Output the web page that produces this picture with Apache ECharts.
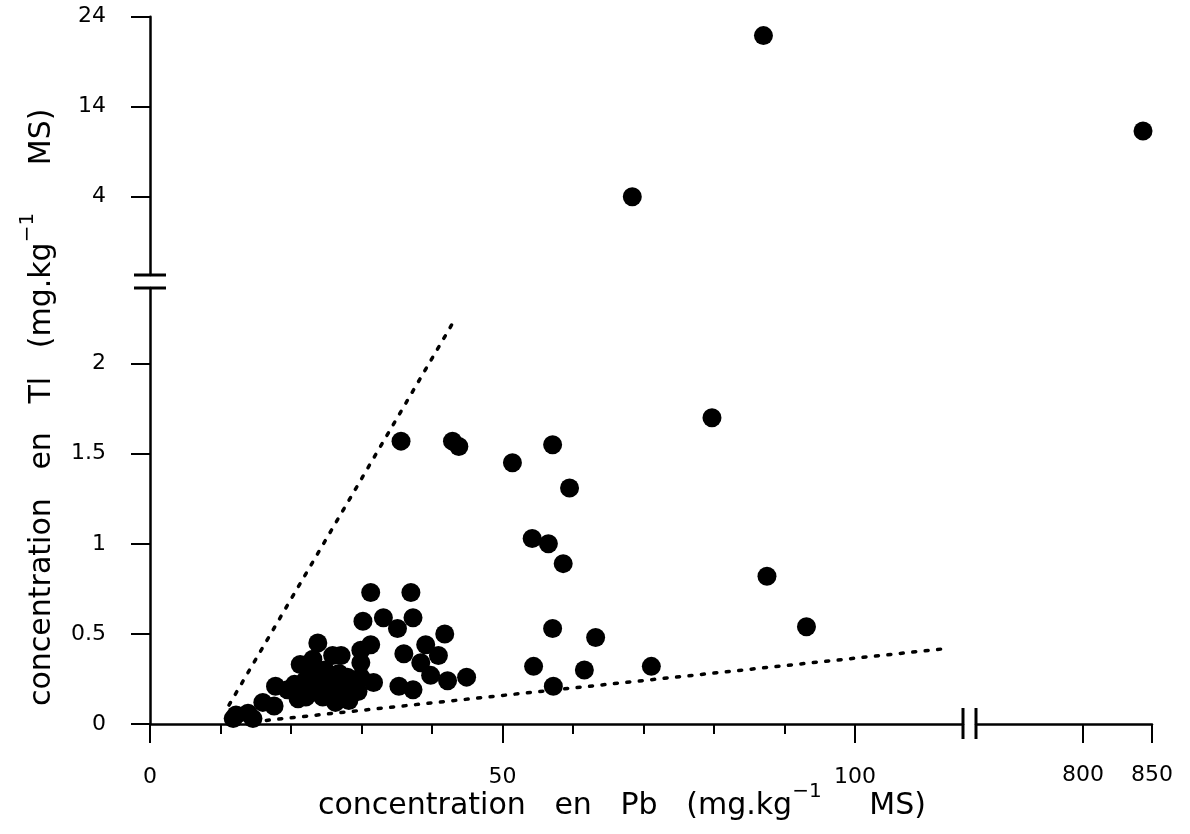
<!DOCTYPE html>
<html>
<head>
<meta charset="utf-8">
<script src="https://cdn.jsdelivr.net/npm/echarts@6/dist/echarts.min.js"></script>
<style>
html,body{margin:0;padding:0;background:#fff;}
#c{width:1190px;height:834px;}
</style>
</head>
<body>
<div id="c"></div>
<script>
// ---- data (Pb in mg/kg, Tl in mg/kg) ----
// lower-left panel (Pb 0..115, Tl 0..2.4)
const pbLow = [79.7,57.1,51.4,59.5,54.2,56.5,58.6,87.5,93.1,57.1,63.2,54.4,61.6,71.1,57.2,35.6,42.9,43.8,
  31.3,37.0,30.2,33.1,35.1,37.3,41.8,31.3,29.9,36.0,39.1,40.9,29.9,38.4,39.8,42.2,44.9,35.3,37.3,28.0,29.9,31.7,29.5,27.5,27.1,
  23.8,25.9,21.3,23.1,17.8,19.5,16.0,17.6,23.1,24.5,22.1,27.3,26.3,28.2,21.0,12.2,13.9,11.8,14.6,
  25.0,26.8,24.2,22.0,24.8,26.0,22.8,28.5,25.8,20.5];
const tlLow = [1.70,1.55,1.45,1.31,1.03,1.00,0.89,0.82,0.54,0.53,0.48,0.32,0.30,0.32,0.21,1.57,1.57,1.54,
  0.73,0.73,0.57,0.59,0.53,0.59,0.50,0.44,0.41,0.39,0.44,0.38,0.34,0.34,0.27,0.24,0.26,0.21,0.19,0.26,0.26,0.23,0.18,0.18,0.38,
  0.45,0.38,0.33,0.36,0.21,0.19,0.12,0.10,0.21,0.15,0.15,0.23,0.12,0.13,0.14,0.05,0.06,0.03,0.03,
  0.25,0.28,0.22,0.24,0.30,0.20,0.28,0.22,0.16,0.22];
// upper-left panel (Tl 4..24)
const pbHigh = [68.4, 87.0];
const tlHigh = [4.0, 21.9];
// upper-right panel (Pb 800..850)
const pbFar = [843.5];
const tlFar = [11.3];
// dotted envelope lines
const upperLinePb = [11.2, 43.3];
const upperLineTl = [0.105, 2.25];
const lowerLinePb = [16.5, 113.2];
const lowerLineTl = [0.02, 0.42];
// tick values
const xTicksLeft = [0, 50, 100];
const xMinorLeft = [10, 20, 30, 40, 60, 70, 80, 90];
const xTicksRight = [800, 850];
const yTicksLow = [0, 0.5, 1, 1.5, 2];
const yTicksHigh = [4, 14, 24];

// ---- layout ----
const L = 150, RA = 963, LC = 976, RC = 1152;
const TB = 16.7, BB = 275, TA = 288, BA = 724;
const xLeftMax = 115.3, xRightMin = 722.5, xRightMax = 850;
const yLowMax = 2.42, yHighMin = -4.7, yHighMax = 24;

const FF = 'DejaVu Sans';
const tickFont = {fontFamily: FF, fontSize: 22, color: '#000'};
const lineSt = {color: '#000', width: 2.5};
const tickSt = {color: '#000', width: 2};

const pair = (a, b) => a.map((v, i) => [v, b[i]]);

const grids = [
  {left: L, top: TA, width: RA - L, height: BA - TA},
  {left: L, top: TB, width: RA - L, height: BB - TB},
  {left: LC, top: TA, width: RC - LC, height: BA - TA},
  {left: LC, top: TB, width: RC - LC, height: BB - TB}
];

const hiddenAxis = (grid, min, max) => ({gridIndex: grid, type: 'value', min, max, show: false});

const xAxes = [
  {gridIndex: 0, type: 'value', min: 0, max: xLeftMax, position: 'bottom',
    axisLine: {show: true, onZero: false, lineStyle: lineSt},
    axisTick: {show: true, length: 19, lineStyle: tickSt, customValues: xTicksLeft},
    axisLabel: {show: true, margin: 42, customValues: xTicksLeft, ...tickFont},
    splitLine: {show: false}},
  {gridIndex: 0, type: 'value', min: 0, max: xLeftMax, position: 'bottom',
    axisLine: {show: false},
    axisTick: {show: true, length: 10, lineStyle: tickSt, customValues: xMinorLeft},
    axisLabel: {show: false}, splitLine: {show: false}},
  hiddenAxis(1, 0, xLeftMax),
  {gridIndex: 2, type: 'value', min: xRightMin, max: xRightMax, position: 'bottom',
    axisLine: {show: true, onZero: false, lineStyle: lineSt},
    axisTick: {show: true, length: 19, lineStyle: tickSt, customValues: xTicksRight},
    axisLabel: {show: true, margin: 40, customValues: xTicksRight, ...tickFont},
    splitLine: {show: false}},
  hiddenAxis(3, xRightMin, xRightMax)
];

const yAxes = [
  {gridIndex: 0, type: 'value', min: 0, max: yLowMax, position: 'left',
    axisLine: {show: true, onZero: false, lineStyle: lineSt},
    axisTick: {show: true, length: 19, lineStyle: tickSt, customValues: yTicksLow},
    axisLabel: {show: true, margin: 44, customValues: yTicksLow, ...tickFont},
    splitLine: {show: false}},
  {gridIndex: 1, type: 'value', min: yHighMin, max: yHighMax, position: 'left',
    axisLine: {show: true, onZero: false, lineStyle: lineSt},
    axisTick: {show: true, length: 19, lineStyle: tickSt, customValues: yTicksHigh},
    axisLabel: {show: true, margin: 44, customValues: yTicksHigh, ...tickFont},
    splitLine: {show: false}},
  hiddenAxis(2, 0, yLowMax),
  hiddenAxis(3, yHighMin, yHighMax)
];

const dotStyle = {color: '#000', width: 3.5, type: [3, 9.5], cap: 'round'};
const scatterBase = {type: 'scatter', symbol: 'circle', symbolSize: 19,
  itemStyle: {color: '#000', opacity: 1}, z: 5, silent: true};

const series = [
  {type: 'line', xAxisIndex: 0, yAxisIndex: 0, data: pair(upperLinePb, upperLineTl),
    showSymbol: false, symbol: 'none', lineStyle: dotStyle, silent: true, z: 2},
  {type: 'line', xAxisIndex: 0, yAxisIndex: 0, data: pair(lowerLinePb, lowerLineTl),
    showSymbol: false, symbol: 'none', lineStyle: dotStyle, silent: true, z: 2},
  {...scatterBase, xAxisIndex: 0, yAxisIndex: 0, data: pair(pbLow, tlLow)},
  {...scatterBase, xAxisIndex: 2, yAxisIndex: 1, data: pair(pbHigh, tlHigh)},
  {...scatterBase, xAxisIndex: 4, yAxisIndex: 3, data: pair(pbFar, tlFar)}
];

const rich = {
  t: {fontFamily: FF, fontSize: 30, color: '#000', lineHeight: 48},
  s: {fontFamily: FF, fontSize: 20, color: '#000', lineHeight: 18, verticalAlign: 'top'}
};
const xTitle = '{t|concentration   en   Pb   (mg.kg}{s|\u22121}{t|     MS)}';
const yTitle = '{t|concentration   en   Tl   (mg.kg}{s|\u22121}{t|     MS)}';

const brk = {stroke: '#000', lineWidth: 3};
const graphic = [
  {type: 'text', x: 318, y: 806, silent: true,
    style: {text: xTitle, rich, textAlign: 'left', textVerticalAlign: 'middle'}},
  {type: 'text', x: 42, y: 706, rotation: Math.PI / 2, silent: true,
    style: {text: yTitle, rich, textAlign: 'left', textVerticalAlign: 'middle'}},
  // axis break marks
  {type: 'line', silent: true, shape: {x1: L - 16, y1: BB, x2: L + 16, y2: BB}, style: brk},
  {type: 'line', silent: true, shape: {x1: L - 16, y1: TA, x2: L + 16, y2: TA}, style: brk},
  {type: 'line', silent: true, shape: {x1: RA, y1: BA - 16, x2: RA, y2: BA + 15}, style: brk},
  {type: 'line', silent: true, shape: {x1: LC, y1: BA - 16, x2: LC, y2: BA + 15}, style: brk}
];

const chart = echarts.init(document.getElementById('c'), null, {renderer: 'canvas'});
chart.setOption({
  animation: false,
  backgroundColor: '#fff',
  grid: grids,
  xAxis: xAxes,
  yAxis: yAxes,
  series,
  graphic
});
</script>
</body>
</html>
